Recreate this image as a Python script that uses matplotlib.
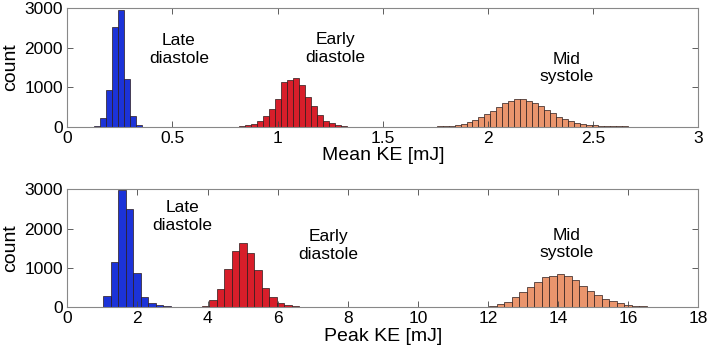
import numpy as np
import matplotlib; matplotlib.use("Agg"); import matplotlib.pyplot as plt

# ---- data (bin start, bin width, counts per bin) ----
mean_w = 0.0285
mean_late_start = 0.099
mean_late = [5, 20, 210, 930, 2530, 2950, 1200, 280, 35, 5]
mean_early_start = 0.789
mean_early = [5, 15, 35, 65, 150, 270, 460, 700, 1130, 1180, 1240, 1045, 740, 520, 295, 150, 85, 35, 15, 5]
mean_mid_start = 1.727
mean_mid = [5, 10, 18, 30, 50, 80, 115, 170, 236, 320, 400, 505, 590, 650, 690, 700, 660, 600, 515, 420,
            335, 255, 190, 140, 105, 75, 55, 40, 28, 20, 13, 9, 6, 4, 3, 2]

peak_w = 0.214
peak_late_start = 0.806
peak_late = [15, 290, 1145, 2980, 2490, 865, 270, 100, 50, 25, 10]
peak_early_start = 3.616
peak_early = [8, 35, 175, 470, 975, 1430, 1645, 1390, 950, 500, 255, 120, 60, 35, 15, 8]
peak_mid_start = 11.39
peak_mid = [5, 10, 20, 35, 75, 145, 255, 400, 525, 645, 765, 805, 840, 800, 695, 550, 425, 300, 215,
            150, 100, 68, 42, 25, 17, 10, 6, 3]

phase_labels = ["Late\ndiastole", "Early\ndiastole", "Mid\nsystole"]
colors = ["#1c33d8", "#d81e2a", "#ea956d"]

plt.rcParams["font.family"] = ["Liberation Sans", "DejaVu Sans"]
fig = plt.figure(figsize=(7.09, 3.53), dpi=100)
ax1 = fig.add_axes([0.0949, 0.641, 0.890, 0.336])
ax2 = fig.add_axes([0.0949, 0.1295, 0.890, 0.334])

def draw(ax, starts, counts_list, w):
    for s, c, col in zip(starts, counts_list, colors):
        left = s + w*np.arange(len(c))
        ax.bar(left, c, width=w, align="edge", color=col, edgecolor="#2a1a1a", linewidth=0.5)

draw(ax1, [mean_late_start, mean_early_start, mean_mid_start], [mean_late, mean_early, mean_mid], mean_w)
draw(ax2, [peak_late_start, peak_early_start, peak_mid_start], [peak_late, peak_early, peak_mid], peak_w)

ax1.set_xlim(0, 3); ax1.set_xticks([0, 0.5, 1, 1.5, 2, 2.5, 3]); ax1.set_xticklabels(["0", "0.5", "1", "1.5", "2", "2.5", "3"])
ax2.set_xlim(0, 18); ax2.set_xticks(range(0, 19, 2))
for ax in (ax1, ax2):
    ax.set_ylim(0, 3000); ax.set_yticks([0, 1000, 2000, 3000])
    ax.tick_params(direction="in", top=True, right=True, labelsize=12.5, length=4, width=0.6, color="#444444", pad=3)
    for sp in ax.spines.values():
        sp.set_color("#888888"); sp.set_linewidth(0.8)
    ax.set_ylabel("count", fontsize=14, labelpad=4)
ax1.set_xlabel("Mean KE [mJ]", fontsize=14, labelpad=1)
ax2.set_xlabel("Peak KE [mJ]", fontsize=14, labelpad=1)

# phase annotations
for (x, y), t in zip([(0.531, 1951), (1.274, 1976), (2.375, 1483)], phase_labels):
    ax1.text(x, y, t, ha="center", va="center", fontsize=12.5, linespacing=1.2)
for (x, y), t in zip([(3.29, 2309), (7.44, 1571), (14.24, 1610)], phase_labels):
    ax2.text(x, y, t, ha="center", va="center", fontsize=12.5, linespacing=1.2)

fig.savefig("out.png", dpi=100)
